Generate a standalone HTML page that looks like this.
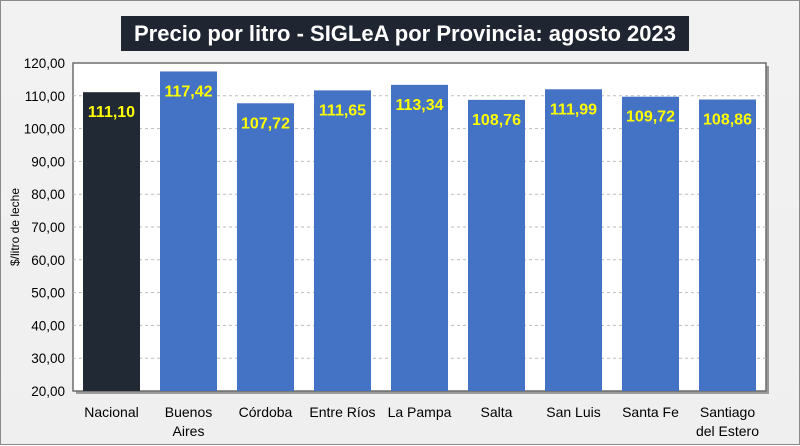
<!DOCTYPE html>
<html><head><meta charset="utf-8"><style>
body{margin:0;width:800px;height:445px;overflow:hidden;font-family:"Liberation Sans",sans-serif}
#wrap{position:absolute;left:0;top:0;width:798px;height:443px;border:1px solid #8a8a8a;background:linear-gradient(#f2f2f2,#efefef)}
#title{position:absolute;left:120px;top:15px;width:568px;height:35px;background:#1f2631;color:#fff;font-weight:bold;font-size:22px;line-height:35px;text-align:center}
</style></head><body>
<div id="wrap">
<div id="title">Precio por litro - SIGLeA por Provincia: agosto 2023</div>
<svg id="c" width="800" height="445" style="position:absolute;left:0;top:0"></svg>
</div>
<script>
const categories=[["Nacional"],["Buenos","Aires"],["Córdoba"],["Entre Ríos"],["La Pampa"],["Salta"],["San Luis"],["Santa Fe"],["Santiago","del Estero"]];
const values=[111.10,117.42,107.72,111.65,113.34,108.76,111.99,109.72,108.86];
const valueLabels=["111,10","117,42","107,72","111,65","113,34","108,76","111,99","109,72","108,86"];
const yTicks=[20,30,40,50,60,70,80,90,100,110,120];
const L=72,R=765,T=62,B=390,ymin=20,ymax=120;
const y=v=>B-(v-ymin)/(ymax-ymin)*(B-T);
const bw=(R-L)/categories.length;
const x=i=>L+i*bw;
const svg=document.getElementById('c');const NS="http://www.w3.org/2000/svg";
function mk(t,a,txt){const e=document.createElementNS(NS,t);for(const k in a)e.setAttribute(k,a[k]);if(txt!=null)e.textContent=txt;svg.appendChild(e);return e;}
let sh=mk('rect',{x:L+3,y:T+3,width:R-L,height:B-T,fill:'#9a9a9a'});


let pa=mk('rect',{x:L,y:T,width:R-L,height:B-T,fill:'#fff',stroke:'#6d6d6d','stroke-width':1.5});


yTicks.forEach(v=>{
 if(v>ymin&&v<ymax){let g=mk('line',{x1:L,x2:R,y1:y(v),y2:y(v),stroke:'#bbb','stroke-dasharray':'3,3'});
 
 }
 let t=mk('text',{x:L-8,y:y(v)+5,'text-anchor':'end','font-size':'13.5',fill:'#000'},v.toFixed(2).replace('.',','));
 
 
});
values.forEach((v,i)=>{
 const bx=x(i)+bw*0.13,w=bw*0.74;
 let r=mk('rect',{x:bx,y:y(v),width:w,height:B-y(v),fill:i==0?'#212934':'#4472c4'});
 
 
 let t=mk('text',{x:bx+w/2,y:y(v)+25,'text-anchor':'middle','font-size':'16','font-weight':'bold',fill:'#ffff00'},valueLabels[i]);
 
 
 categories[i].forEach((ln,j)=>{
  let c=mk('text',{x:bx+w/2,y:B+26+j*19,'text-anchor':'middle','font-size':'14',fill:'#000'},ln);
  
  
 });
});
let yt=mk('text',{x:0,y:0,transform:'translate(18,'+((T+B)/2)+') rotate(-90)','text-anchor':'middle','font-size':'12',fill:'#000'},'$/litro de leche');


</script>
</body></html>
